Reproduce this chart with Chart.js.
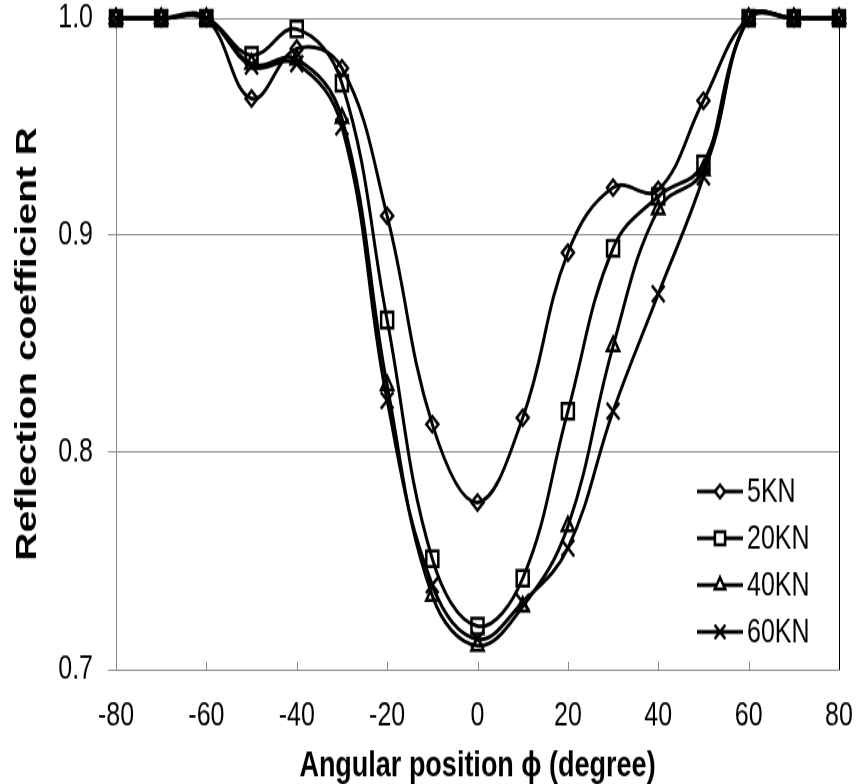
<!DOCTYPE html>
<html>
<head>
  <title>Reflection coefficient</title>
  <script src="https://cdn.jsdelivr.net/npm/chart.js"></script>
  <style>
    html, body { margin: 0; padding: 0; background: #fff; }
  </style>
</head>
<body>
<!-- the source figure is stretched vertically: draw at 856x603, show at 856x784 -->
<canvas id="myChart" width="856" height="603" style="display:block;width:856px;height:784px"></canvas>
<script>
// angular position (degree)
const angles = [-80, -70, -60, -50, -40, -30, -20, -10, 0, 10, 20, 30, 40, 50, 60, 70, 80];

// reflection coefficient R per load
const r5KN  = [1, 1, 1, 0.963, 0.986, 0.977, 0.909, 0.813, 0.777, 0.816, 0.892, 0.922, 0.921, 0.962, 1, 1, 1];
const r20KN = [1, 1, 1, 0.983, 0.995, 0.970, 0.861, 0.751, 0.720, 0.742, 0.819, 0.894, 0.918, 0.933, 1, 1, 1];
const r40KN = [1, 1, 1, 0.979, 0.981, 0.954, 0.831, 0.734, 0.711, 0.729, 0.766, 0.849, 0.912, 0.930, 1, 1, 1];
const r60KN = [1, 1, 1, 0.978, 0.979, 0.950, 0.824, 0.739, 0.714, 0.731, 0.756, 0.819, 0.873, 0.927, 1, 1, 1];

const seriesNames = ['5KN', '20KN', '40KN', '60KN'];
const xTicks = [-80, -60, -40, -20, 0, 20, 40, 60, 80];
const yTicks = [0.7, 0.8, 0.9, 1.0];

const FONT = "'Liberation Sans', Arial, sans-serif";

const styles = [
  { pointStyle: 'rectRot', radius: 6 },
  { pointStyle: 'rect', radius: 8.5 },
  { pointStyle: 'triangle', radius: 7 },
  { pointStyle: 'crossRot', radius: 9 }
];

function makeSet(name, values, i) {
  return {
    label: name,
    data: angles.map((a, k) => ({ x: a, y: values[k] })),
    borderColor: '#000',
    borderWidth: 3,
    pointStyle: styles[i].pointStyle,
    pointRadius: styles[i].radius,
    pointBorderColor: '#000',
    pointBackgroundColor: 'rgba(0,0,0,0)',
    pointBorderWidth: 2.5,
    tension: 0.4,
    clip: false
  };
}

// right border, inward x ticks and the legend
const extras = {
  id: 'extras',
  afterDraw(chart) {
    const { ctx, chartArea } = chart;
    const xs = chart.scales.x;
    ctx.save();
    ctx.strokeStyle = '#888';
    ctx.lineWidth = 1;
    xTicks.forEach(t => {
      const px = Math.round(xs.getPixelForValue(t)) + 0.5;
      ctx.beginPath();
      ctx.moveTo(px, chartArea.bottom);
      ctx.lineTo(px, chartArea.bottom - 6);
      ctx.stroke();
    });
    ctx.strokeStyle = '#000';
    ctx.beginPath();
    ctx.moveTo(chartArea.right + 0.5, chartArea.top);
    ctx.lineTo(chartArea.right + 0.5, chartArea.bottom);
    ctx.stroke();

    // legend
    const x0 = chartArea.right - 142;
    const y0 = 378;
    chart.data.datasets.forEach((ds, i) => {
      const y = y0 + i * 36;
      ctx.strokeStyle = '#000';
      ctx.lineWidth = 3;
      ctx.beginPath();
      ctx.moveTo(x0, y);
      ctx.lineTo(x0 + 46, y);
      ctx.stroke();
      ctx.fillStyle = '#fff';
      ctx.lineWidth = 2.5;
      Chart.helpers.drawPoint(ctx, {
        pointStyle: ds.pointStyle,
        radius: ds.pointRadius * 0.85,
        rotation: 0,
        borderWidth: 2.5
      }, x0 + 23, y);
      ctx.fillStyle = '#000';
      ctx.font = '25px ' + FONT;
      ctx.textBaseline = 'middle';
      ctx.textAlign = 'left';
      ctx.fillText(ds.label, x0 + 50, y + 1);
    });
    ctx.restore();
  }
};

const ctx = document.getElementById('myChart');
const chart = new Chart(ctx, {
  type: 'line',
  data: {
    datasets: [
      makeSet(seriesNames[0], r5KN, 0),
      makeSet(seriesNames[1], r20KN, 1),
      makeSet(seriesNames[2], r40KN, 2),
      makeSet(seriesNames[3], r60KN, 3)
    ]
  },
  options: {
    responsive: false,
    animation: false,
    layout: { padding: { top: 14, right: 17, left: 0, bottom: 0 } },
    elements: { line: { capBezierPoints: false } },
    plugins: {
      legend: { display: false },
      tooltip: { enabled: false }
    },
    scales: {
      x: {
        type: 'linear',
        min: -80,
        max: 80,
        afterBuildTicks: s => { s.ticks = xTicks.map(v => ({ value: v })); },
        afterFit: s => { s.height = 88; s.paddingLeft = 0; s.paddingRight = 0; },
        grid: { display: false },
        border: { display: true, color: '#888', width: 1 },
        ticks: {
          color: '#000',
          padding: 13,
          maxRotation: 0,
          font: { family: FONT, size: 25 }
        },
        title: {
          display: true,
          text: 'Angular position \u03d5 (degree)',
          color: '#000',
          padding: { top: 0, bottom: -3 },
          font: { family: FONT, size: 27, weight: 'bold' }
        }
      },
      y: {
        min: 0.7,
        max: 1.0,
        afterBuildTicks: s => { s.ticks = yTicks.map(v => ({ value: v })); },
        afterFit: s => { s.width = 116; s.paddingTop = 0; s.paddingBottom = 0; },
        grid: {
          color: '#888',
          lineWidth: 1,
          tickLength: 8,
          drawTicks: true
        },
        border: { display: true, color: '#888', width: 1 },
        ticks: {
          color: '#000',
          padding: 15,
          callback: v => v.toFixed(1),
          font: { family: FONT, size: 25 }
        },
        title: {
          display: true,
          text: 'Reflection coefficient R',
          color: '#000',
          padding: { top: 10, bottom: 0 },
          font: { family: FONT, size: 30, weight: 'bold' }
        }
      }
    }
  },
  plugins: [extras]
});
</script>
</body>
</html>
